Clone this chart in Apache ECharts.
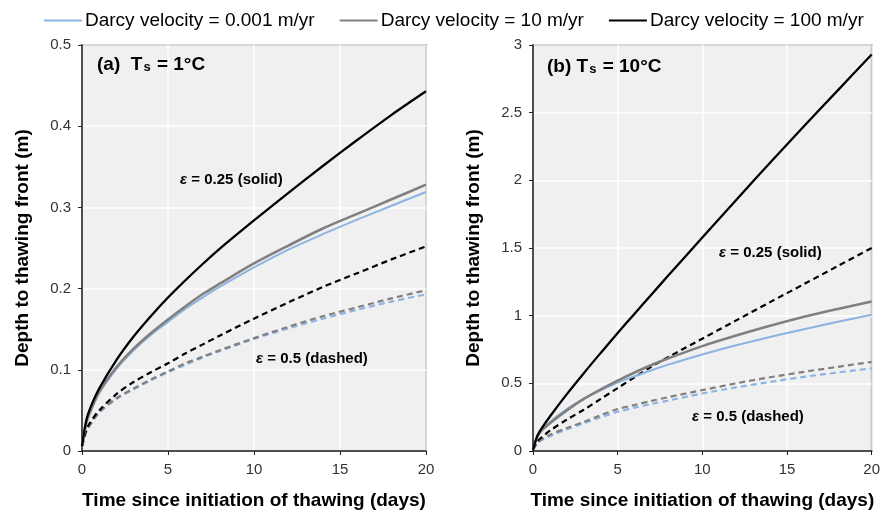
<!DOCTYPE html>
<html>
<head>
<meta charset="utf-8">
<script src="https://cdn.jsdelivr.net/npm/echarts@6/dist/echarts.min.js"></script>
<style>
  html, body { margin: 0; padding: 0; background: #fff; }
  #main { width: 883px; height: 515px; }
</style>
</head>
<body>
<div id="main"></div>
<script>
// time since initiation of thawing (days)
var days = [0, 0.25, 0.5, 1, 2, 3, 4, 5, 6, 7, 8, 10, 12, 14, 16, 18, 20];

// (a) Ts = 1 C
var a_blue_solid  = [0.006, 0.034, 0.048, 0.071, 0.101, 0.124, 0.143, 0.159, 0.175, 0.189, 0.202, 0.226, 0.248, 0.267, 0.285, 0.302, 0.319];
var a_gray_solid  = [0.006, 0.035, 0.050, 0.073, 0.103, 0.126, 0.145, 0.162, 0.178, 0.193, 0.206, 0.231, 0.253, 0.274, 0.292, 0.310, 0.328];
var a_black_solid = [0.006, 0.038, 0.054, 0.077, 0.112, 0.141, 0.166, 0.189, 0.210, 0.230, 0.249, 0.284, 0.318, 0.351, 0.383, 0.414, 0.443];
var a_blue_dash   = [0.006, 0.024, 0.033, 0.047, 0.064, 0.076, 0.087, 0.097, 0.106, 0.115, 0.123, 0.138, 0.151, 0.163, 0.174, 0.184, 0.193];
var a_gray_dash   = [0.006, 0.024, 0.033, 0.048, 0.065, 0.077, 0.088, 0.098, 0.108, 0.116, 0.124, 0.139, 0.153, 0.166, 0.177, 0.188, 0.198];
var a_black_dash  = [0.006, 0.026, 0.036, 0.050, 0.070, 0.085, 0.097, 0.108, 0.120, 0.131, 0.142, 0.163, 0.183, 0.202, 0.219, 0.236, 0.252];

// (b) Ts = 10 C
var b_blue_solid  = [0.01, 0.100, 0.150, 0.215, 0.310, 0.385, 0.448, 0.505, 0.552, 0.597, 0.638, 0.713, 0.781, 0.843, 0.900, 0.955, 1.006];
var b_gray_solid  = [0.01, 0.105, 0.150, 0.205, 0.300, 0.385, 0.455, 0.520, 0.580, 0.635, 0.685, 0.775, 0.853, 0.925, 0.992, 1.050, 1.105];
var b_black_solid = [0.01, 0.110, 0.165, 0.255, 0.420, 0.575, 0.725, 0.872, 1.015, 1.157, 1.298, 1.577, 1.855, 2.130, 2.400, 2.665, 2.930];
var b_blue_dash   = [0.01, 0.055, 0.080, 0.110, 0.160, 0.205, 0.250, 0.290, 0.320, 0.348, 0.373, 0.425, 0.470, 0.510, 0.548, 0.580, 0.611];
var b_gray_dash   = [0.01, 0.060, 0.085, 0.120, 0.170, 0.215, 0.265, 0.310, 0.340, 0.370, 0.398, 0.450, 0.500, 0.545, 0.585, 0.622, 0.658];
var b_black_dash  = [0.01, 0.070, 0.100, 0.150, 0.232, 0.305, 0.385, 0.465, 0.545, 0.624, 0.695, 0.830, 0.965, 1.100, 1.233, 1.367, 1.500];

var legendNames = ['Darcy velocity = 0.001 m/yr', 'Darcy velocity = 10 m/yr', 'Darcy velocity = 100 m/yr'];
var colors = ['#8db3e2', '#808080', '#000000'];
var widths = [2, 2.6, 2.3];

var FONT = '"Liberation Sans", Arial, sans-serif';

function pairs(ys) {
    return days.map(function (d, i) { return [d, ys[i]]; });
}

function line(name, ys, k, dashed, gi) {
    return {
        name: dashed ? name + ' (dashed)' : name,
        type: 'line',
        xAxisIndex: gi,
        yAxisIndex: gi,
        data: pairs(ys),
        smooth: 0.3,
        symbol: 'none',
        color: colors[k],
        lineStyle: { color: colors[k], width: dashed ? 2.2 : widths[k], type: dashed ? [6, 4] : 'solid' },
        z: dashed ? 2 : 3
    };
}

function xAx(gi) {
    return {
        type: 'value', gridIndex: gi, min: 0, max: 20, interval: 5,
        name: 'Time since initiation of thawing (days)',
        nameLocation: 'middle', nameGap: 40,
        nameTextStyle: { fontFamily: FONT, fontSize: 19, fontWeight: 'bold', color: '#000' },
        axisLine: { show: true, onZero: false, lineStyle: { color: '#222', width: 1.5 } },
        axisTick: { show: true, inside: false, length: 4, lineStyle: { color: '#222' } },
        axisLabel: { fontFamily: FONT, fontSize: 15, color: '#333', margin: 11 },
        splitLine: { show: true, lineStyle: { color: '#ffffff', width: 1.5 } }
    };
}

function yAx(gi, max, interval) {
    return {
        type: 'value', gridIndex: gi, min: 0, max: max, interval: interval,
        name: 'Depth to thawing front (m)',
        nameLocation: 'middle', nameGap: 50,
        nameTextStyle: { fontFamily: FONT, fontSize: 19, fontWeight: 'bold', color: '#000' },
        axisLine: { show: true, onZero: false, lineStyle: { color: '#222', width: 1.5 } },
        axisTick: { show: true, inside: false, length: 4, lineStyle: { color: '#222' } },
        axisLabel: { fontFamily: FONT, fontSize: 15, color: '#333', margin: 11 },
        splitLine: { show: true, lineStyle: { color: '#ffffff', width: 1.5 } }
    };
}

function panelLabel(x, y, pre, post) {
    return {
        type: 'text', left: x, top: y, z: 10,
        style: {
            text: pre + 'T{s|s} = ' + post,
            font: 'bold 19px ' + FONT,
            fill: '#000',
            rich: {
                s: { fontSize: 13, fontWeight: 'bold', fontFamily: FONT, verticalAlign: 'bottom', lineHeight: 13, padding: [7, 1, 0, 1] }
            }
        }
    };
}

function epsLabel(x, y, txt) {
    return {
        type: 'text', left: x, top: y, z: 10,
        style: {
            text: '{e|ε} = ' + txt,
            font: 'bold 15px ' + FONT,
            fill: '#000',
            rich: { e: { fontStyle: 'italic', fontWeight: 'bold', fontSize: 15, fontFamily: FONT } }
        }
    };
}

var chart = echarts.init(document.getElementById('main'));
var option = {
    animation: false,
    backgroundColor: '#ffffff',
    textStyle: { fontFamily: FONT },
    legend: {
        data: legendNames,
        left: 39, top: 6,
        icon: 'rect', itemWidth: 38, itemHeight: 2, itemGap: 25,
        textStyle: { fontFamily: FONT, fontSize: 19, color: '#000', padding: [0, 0, 0, -2] }
    },
    grid: [
        { left: 82, top: 45, width: 344, height: 409, show: true, backgroundColor: '#f0f0f0', borderColor: '#333', borderWidth: 1.5 },
        { left: 533, top: 45, width: 340, height: 409, show: true, backgroundColor: '#f0f0f0', borderColor: '#333', borderWidth: 1.5 }
    ],
    xAxis: [xAx(0), xAx(1)],
    yAxis: [yAx(0, 0.5, 0.1), yAx(1, 3, 0.5)],
    graphic: [
        panelLabel(97, 54, '(a)  ', '1°C'),
        panelLabel(547, 56, '(b) ', '10°C'),
        epsLabel(180, 172, '0.25 (solid)'),
        epsLabel(256, 351, '0.5 (dashed)'),
        epsLabel(719, 245, '0.25 (solid)'),
        epsLabel(692, 409, '0.5 (dashed)')
    ],
    series: [
        line(legendNames[0], a_blue_dash, 0, true, 0),
        line(legendNames[1], a_gray_dash, 1, true, 0),
        line(legendNames[2], a_black_dash, 2, true, 0),
        line(legendNames[0], a_blue_solid, 0, false, 0),
        line(legendNames[1], a_gray_solid, 1, false, 0),
        line(legendNames[2], a_black_solid, 2, false, 0),
        line(legendNames[0], b_blue_dash, 0, true, 1),
        line(legendNames[1], b_gray_dash, 1, true, 1),
        line(legendNames[2], b_black_dash, 2, true, 1),
        line(legendNames[0], b_blue_solid, 0, false, 1),
        line(legendNames[1], b_gray_solid, 1, false, 1),
        line(legendNames[2], b_black_solid, 2, false, 1)
    ]
};
chart.setOption(option);
</script>
</body>
</html>
